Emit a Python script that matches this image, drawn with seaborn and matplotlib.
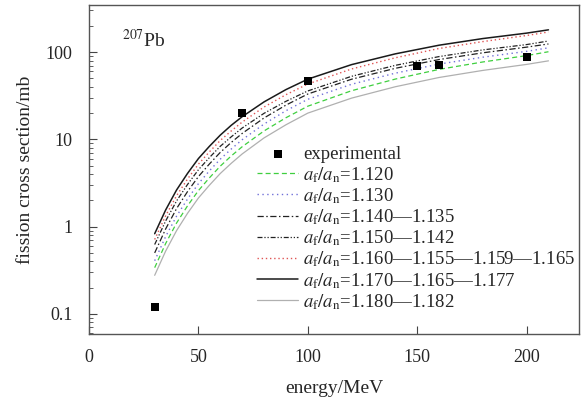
import matplotlib
matplotlib.use("Agg")
import matplotlib.pyplot as plt
import matplotlib.ticker as mticker
import pandas as pd
import seaborn as sns

sns.set_style("ticks")
plt.rcParams["font.family"] = ["Liberation Serif", "DejaVu Serif"]
plt.rcParams["mathtext.fontset"] = "stix"

# calculated curves
energy = [30, 35, 40, 45, 50, 55, 60, 65, 70, 80, 90, 100, 120, 140, 160, 180, 200, 210]
sigma_1120 = [0.339, 0.64, 1.10, 1.73, 2.59, 3.62, 4.94, 6.46, 8.24, 12.5, 17.7, 24.0,
              36.1, 49.1, 63.4, 77.1, 91.2, 101]
sigma_1130 = [0.407, 0.769, 1.32, 2.07, 3.11, 4.36, 5.94, 7.76, 9.91, 15.0, 21.3, 28.8,
              42.8, 57.4, 72.9, 87.5, 102, 112]
sigma_1140 = [0.50, 0.94, 1.61, 2.52, 3.75, 5.22, 7.10, 9.23, 11.7, 17.6, 24.7, 33.1,
              48.9, 65.2, 82.2, 98.2, 114, 124]
sigma_1150 = [0.624, 1.16, 1.97, 3.04, 4.49, 6.18, 8.34, 10.7, 13.5, 19.9, 27.3, 35.9,
              52.8, 70.5, 88.9, 106, 122, 134]
sigma_1160 = [0.713, 1.33, 2.26, 3.51, 5.20, 7.19, 9.73, 12.5, 15.8, 23.5, 32.5, 43.1,
              64.1, 86.1, 110, 132, 155, 170]
sigma_1170 = [0.83, 1.55, 2.63, 4.07, 6.03, 8.32, 11.2, 14.5, 18.2, 26.9, 37.2, 49.0,
              71.9, 95.5, 120, 143, 165, 180]
sigma_1180 = [0.277, 0.524, 0.90, 1.42, 2.13, 2.98, 4.07, 5.32, 6.81, 10.4, 14.7, 20.0,
              29.7, 40.1, 51.2, 61.7, 72.3, 79.4]

# measured points
exp_energy = [30, 70, 100, 150, 160, 200]
exp_sigma = [0.12, 20, 47, 69, 72, 88]

ratio = r"$a_{\rm f}/a_{\rm n}$"
curves = [
    (sigma_1120, ratio + "=1.120", "#3fcf3f", (0, (4, 2.5)), 0.9),
    (sigma_1130, ratio + "=1.130", "#7070d8", (0, (1, 2.5)), 1.0),
    (sigma_1140, ratio + "=1.140—1.135", "#222222", (0, (5, 2, 1.2, 2)), 0.9),
    (sigma_1150, ratio + "=1.150—1.142", "#222222", (0, (4, 1.5, 1, 1.5, 1, 1.5)), 0.9),
    (sigma_1160, ratio + "=1.160—1.155—1.159—1.165", "#e05555", (0, (1, 2)), 1.0),
    (sigma_1170, ratio + "=1.170—1.165—1.177", "#1a1a1a", "-", 1.1),
    (sigma_1180, ratio + "=1.180—1.182", "#b0b0b0", "-", 0.9),
]

fig = plt.figure(figsize=(5.82, 3.98), dpi=100)
ax = fig.add_axes([0.153, 0.161, 0.842, 0.826])

handles = []
for values, label, color, ls, lw in curves:
    df = pd.DataFrame({"energy": energy, "sigma": values})
    sns.lineplot(data=df, x="energy", y="sigma", ax=ax, color=color,
                 linestyle=ls, linewidth=lw, label=label)
    handles.append(ax.lines[-1])

exp_df = pd.DataFrame({"energy": exp_energy, "sigma": exp_sigma})
sns.scatterplot(data=exp_df, x="energy", y="sigma", ax=ax, marker="s",
                color="black", s=30, edgecolor="black", linewidth=0,
                label="experimental", zorder=5)
exp_handle = ax.collections[-1]

ax.set_yscale("log")
ax.set_xlim(0, 224)
ax.set_ylim(0.059, 345)
ax.xaxis.set_major_locator(mticker.MultipleLocator(50))
ax.yaxis.set_major_locator(mticker.LogLocator(base=10))
ax.yaxis.set_major_formatter(mticker.FuncFormatter(lambda v, p: f"{v:g}"))
ax.yaxis.set_minor_locator(mticker.LogLocator(base=10, subs=range(2, 10)))
ax.yaxis.set_minor_formatter(mticker.NullFormatter())
ax.tick_params(axis="both", which="major", direction="in", length=6,
               width=0.8, labelsize=13, pad=11, color="#444444")
ax.tick_params(axis="y", which="major", pad=12)
ax.tick_params(axis="y", which="minor", direction="in", length=3,
               width=0.6, color="#444444")
for sp in ax.spines.values():
    sp.set_linewidth(1.0)
    sp.set_color("#555555")

ax.set_xlabel("energy/MeV", fontsize=14, labelpad=10)
ax.set_ylabel("fission cross section/mb", fontsize=14, labelpad=8)
ax.text(0.068, 0.895, r"$^{207}$Pb", transform=ax.transAxes, fontsize=14,
        ha="left", va="center")

ax.legend([exp_handle] + handles,
          ["experimental"] + [c[1] for c in curves],
          loc="upper left", bbox_to_anchor=(0.343, 0.571), frameon=False,
          fontsize=13.5, handlelength=2.2, handletextpad=0.27,
          labelspacing=0.08, borderaxespad=0, borderpad=0)

fig.savefig("out.png", dpi=100)
